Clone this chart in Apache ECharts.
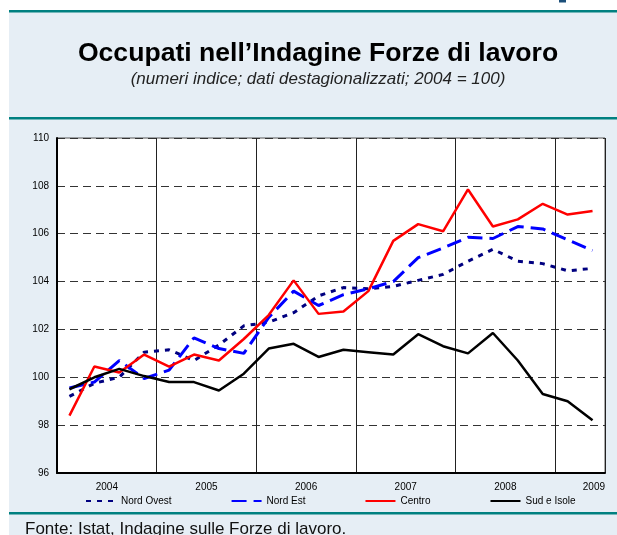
<!DOCTYPE html>
<html>
<head>
<meta charset="utf-8">
<script src="https://cdn.jsdelivr.net/npm/echarts@6/dist/echarts.min.js"></script>
<style>
  html, body { margin: 0; padding: 0; background: #fff; }
  #main { width: 617px; height: 535px; }
</style>
</head>
<body>
<div id="main"></div>
<script>
var quarters = [];
for (var y = 2004; y <= 2009; y++) {
        for (var q = 1; q <= 4; q++) {
                if (y == 2009 && q > 2) break;
                quarters.push(y + ' T' + q);
        }
}
var yearLabels = ['2004', '2005', '2006', '2007', '2008', '2009'];

var nordOvest = [99.2, 99.75, 100.0, 101.05, 101.15, 100.7, 101.35, 102.15, 102.3, 102.7, 103.4,
        103.75, 103.7, 103.8, 104.05, 104.3, 104.85, 105.35, 104.85, 104.75, 104.45, 104.55];
var nordEst = [99.55, 99.8, 100.7, 99.95, 100.3, 101.65, 101.2, 101.0, 102.5, 103.6, 103.0,
        103.45, 103.7, 104.0, 105.0, 105.4, 105.85, 105.8, 106.3, 106.2, 105.75, 105.3];
var centro = [98.4, 100.45, 100.2, 100.95, 100.45, 100.95, 100.7, 101.6, 102.6, 104.05, 102.65,
        102.75, 103.6, 105.7, 106.4, 106.1, 107.85, 106.3, 106.6, 107.25, 106.8, 106.95];
var sudIsole = [99.5, 100.0, 100.35, 100.05, 99.8, 99.8, 99.45, 100.15, 101.2, 101.4, 100.85,
        101.15, 101.05, 100.95, 101.8, 101.3, 101.0, 101.85, 100.7, 99.3, 99.0, 98.2];

var font = 'Liberation Sans, Arial, sans-serif';
var panel = '#e6eef5';
var teal = '#008080';

var chart = echarts.init(document.getElementById('main'));

chart.setOption({
        animation: false,
        backgroundColor: '#fff',
        textStyle: { fontFamily: font },
        graphic: [
                { type: 'rect', shape: { x: 9, y: 12, width: 608, height: 523 }, style: { fill: panel }, z: -10 },
                { type: 'rect', shape: { x: 9, y: 10, width: 608, height: 2.5 }, style: { fill: teal }, z: -9 },
                { type: 'rect', shape: { x: 9, y: 117, width: 608, height: 2.5 }, style: { fill: teal }, z: -9 },
                { type: 'rect', shape: { x: 9, y: 512, width: 608, height: 2.5 }, style: { fill: teal }, z: -9 },
                { type: 'rect', shape: { x: 559, y: 0, width: 7, height: 2.5 }, style: { fill: '#1b4f7a' }, z: -9 },
                {
                        type: 'text', x: 318, y: 40,
                        style: { text: 'Occupati nell’Indagine Forze di lavoro', font: 'bold 26.6px ' + font, fill: '#000', align: 'center', verticalAlign: 'top' }
                },
                {
                        type: 'text', x: 318, y: 71,
                        style: { text: '(numeri indice; dati destagionalizzati; 2004 = 100)', font: 'italic 17px ' + font, fill: '#222', align: 'center', verticalAlign: 'top' }
                },
                {
                        type: 'text', x: 25, y: 521,
                        style: { text: 'Fonte: Istat, Indagine sulle Forze di lavoro.', font: '17px ' + font, fill: '#111', verticalAlign: 'top' }
                }
        ],
        grid: {
                left: 57, right: 12, top: 138, bottom: 62,
                show: true, backgroundColor: '#fff', borderColor: '#555', borderWidth: 1
        },
        legend: {
                left: 80, top: 491, itemGap: 59, itemWidth: 30, itemHeight: 10,
                itemStyle: { opacity: 0 },
                textStyle: { fontSize: 10, color: '#000', fontFamily: font },
                data: ['Nord Ovest', 'Nord Est', 'Centro', 'Sud e Isole']
        },
        xAxis: [
                {
                        type: 'category', data: quarters, boundaryGap: true,
                        axisLine: { lineStyle: { color: '#000', width: 2 } },
                        axisTick: { show: false },
                        axisLabel: { show: false },
                        splitLine: {
                                show: true,
                                interval: function (index) { return index % 4 === 0; },
                                lineStyle: { color: '#222', width: 1 }
                        }
                },
                {
                        type: 'value', min: 0, max: 22, interval: 2, position: 'bottom',
                        axisLine: { show: false }, axisTick: { show: false }, splitLine: { show: false },
                        axisLabel: {
                                margin: 9, fontSize: 10, color: '#000', alignMaxLabel: 'right',
                                formatter: function (v) {
                                        return v % 4 === 2 ? yearLabels[(v - 2) / 4] : '';
                                }
                        }
                }
        ],
        yAxis: {
                type: 'value', min: 96, max: 110, interval: 2,
                axisLine: { show: true, lineStyle: { color: '#000', width: 2 } },
                axisTick: { show: false },
                axisLabel: { margin: 8, fontSize: 10, color: '#000' },
                splitLine: { lineStyle: { color: '#333', type: [8, 5], width: 1 } }
        },
        series: [
                {
                        name: 'Nord Ovest', type: 'line', data: nordOvest, symbol: 'none',
                        color: '#000080', lineStyle: { color: '#000080', width: 3, type: [5, 6] }
                },
                {
                        name: 'Nord Est', type: 'line', data: nordEst, symbol: 'none',
                        color: '#0000ff', lineStyle: { color: '#0000ff', width: 3, type: [15, 7] }
                },
                {
                        name: 'Centro', type: 'line', data: centro, symbol: 'none',
                        color: '#ff0000', lineStyle: { color: '#ff0000', width: 2.5 }
                },
                {
                        name: 'Sud e Isole', type: 'line', data: sudIsole, symbol: 'none',
                        color: '#000', lineStyle: { color: '#000', width: 2.5 }
                }
        ]
});
</script>
</body>
</html>
